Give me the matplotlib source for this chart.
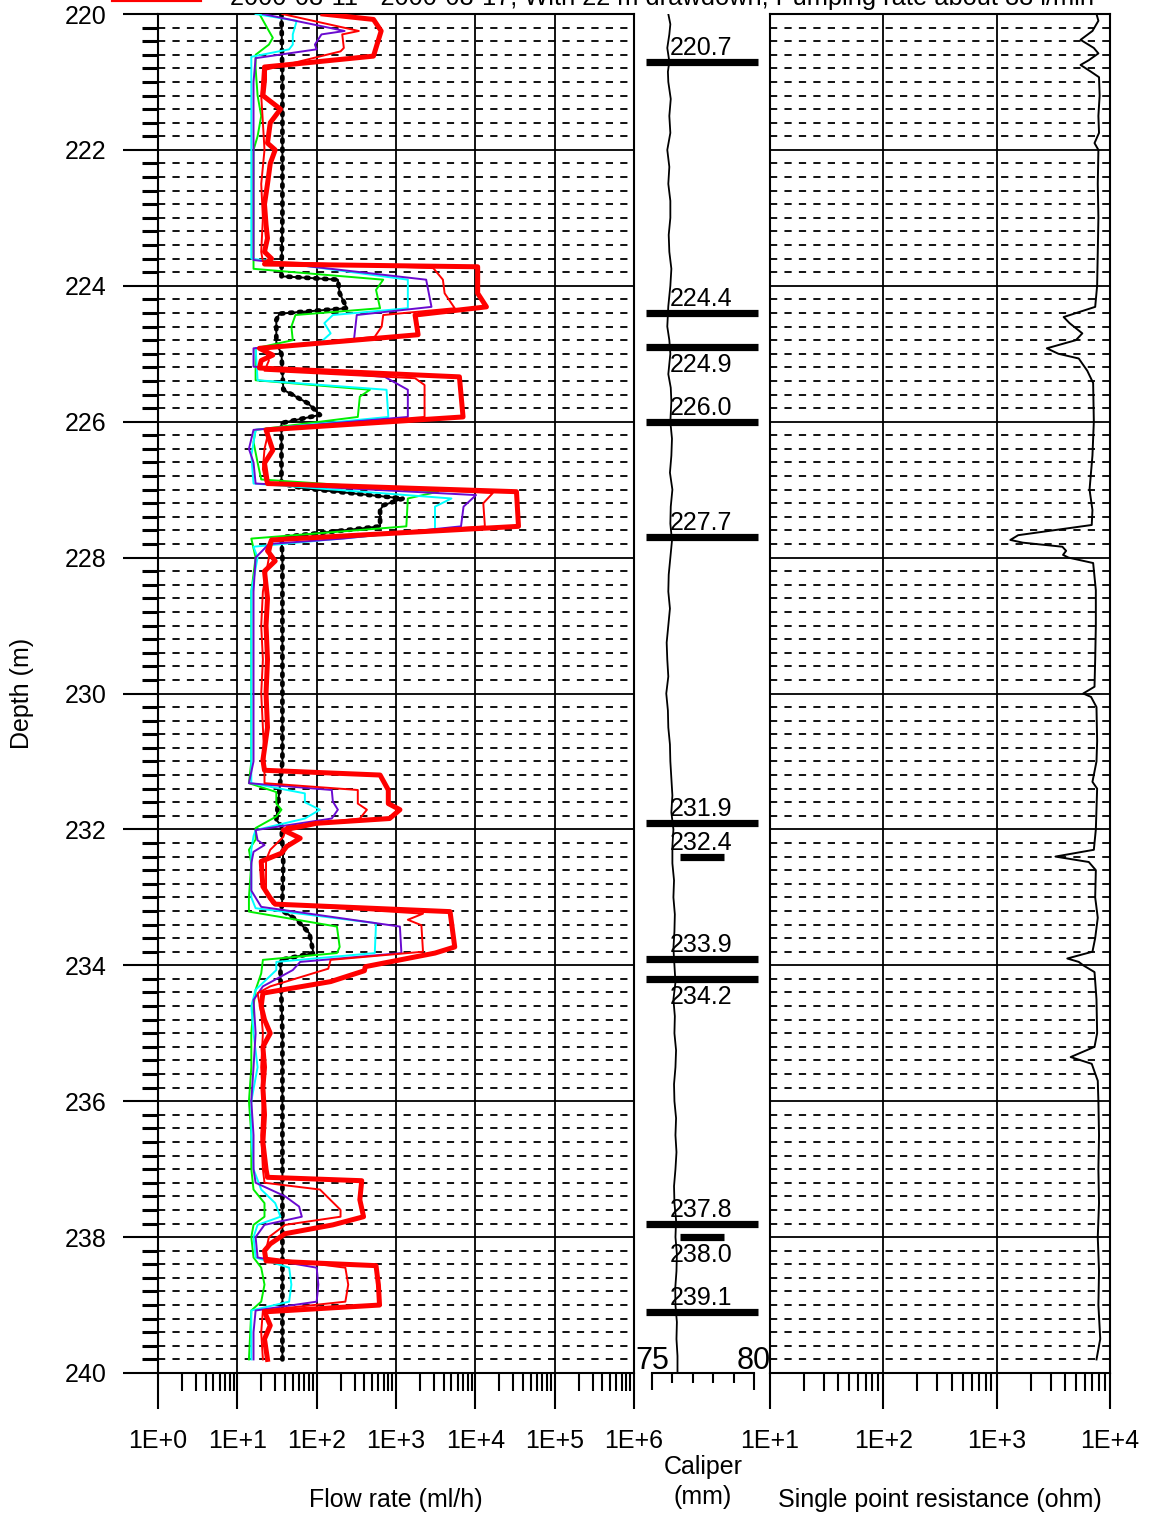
import numpy as np
import matplotlib
matplotlib.use("Agg")
import matplotlib.pyplot as plt
from matplotlib.ticker import FuncFormatter, LogLocator, NullFormatter, MultipleLocator
import matplotlib.transforms as mtransforms
from matplotlib.lines import Line2D

plt.rcParams['font.family'] = ['Liberation Sans', 'DejaVu Sans']

W, H = 1149, 1517
FS = 18

title = "2000-08-11 - 2000-08-17, With 22 m drawdown, Pumping rate about 88 l/min"

# ---- flow logs (depth m, flow ml/h) ----
red2_depth = [220.00, 220.08, 220.25, 220.62, 220.78, 220.97, 221.2, 221.4, 221.6, 221.9, 222.0, 222.2,
              222.5, 222.8, 223.1, 223.3, 223.5, 223.6, 223.68, 223.72, 224.11, 224.31, 224.43, 224.72,
              224.92, 225.02, 225.1, 225.21, 225.34, 225.93, 226.12, 226.42, 226.61, 226.91, 227.03,
              227.54, 227.74, 227.9, 228.05, 228.2, 228.6, 229.0, 229.5, 230.0, 230.5, 230.98, 231.13,
              231.2, 231.42, 231.62, 231.71, 231.84, 231.91, 232.01, 232.13, 232.25, 232.35, 232.47,
              232.84, 233.01, 233.10, 233.21, 233.73, 233.82, 234.02, 234.08, 234.24, 234.41, 234.6,
              234.8, 235.0, 235.2, 235.5, 235.8, 236.2, 236.6, 237.0, 237.12, 237.17, 237.45, 237.7,
              237.82, 237.95, 238.1, 238.2, 238.35, 238.42, 238.7, 239.0, 239.1, 239.3, 239.5, 239.8]
red2_flow = [120, 520, 650, 520, 22, 22, 21, 35, 26, 24, 30, 26,
             24, 22, 23, 24, 22, 27, 22, 10700, 10700, 13800, 1740, 1900,
             19, 28, 20, 19, 6300, 7000, 23, 28, 22, 24, 33000,
             35000, 27, 24, 30, 22, 24, 23, 24, 23, 24, 21, 22,
             630, 800, 800, 1120, 830, 100, 38, 62, 42, 36, 20,
             21, 26, 30, 4800, 5500, 3100, 410, 400, 150, 21, 20,
             22, 26, 21, 22, 21, 22, 21, 23, 24, 370, 350, 390,
             160, 40, 26, 22, 23, 560, 600, 620, 22, 26, 22, 24]

red1_depth = [220.0, 220.25, 220.3, 220.5, 220.55, 220.83, 221.2, 221.6, 222.0, 222.5, 223.0, 223.5,
              223.64, 223.74, 223.91, 224.11, 224.33, 224.43, 224.6, 224.75, 224.92, 225.1, 225.25,
              225.36, 225.46, 225.93, 226.12, 226.4, 226.7, 226.9, 227.05, 227.2, 227.54, 227.74, 228.0,
              228.5, 229.0, 229.5, 230.0, 230.5, 231.0, 231.32, 231.42, 231.62, 231.71, 231.84, 231.96,
              232.11, 232.3, 232.45, 232.94, 233.1, 233.24, 233.33, 233.41, 233.80, 233.92, 234.05,
              234.31, 234.41, 234.7, 235.0, 235.5, 236.0, 236.5, 237.0, 237.2, 237.3, 237.6, 237.7,
              237.82, 238.0, 238.3, 238.45, 238.7, 238.95, 239.08, 239.4, 239.8]
red1_flow = [37, 340, 210, 220, 200, 21, 20, 21, 22, 20, 21, 20,
             21, 2950, 3900, 4100, 5500, 690, 660, 540, 22, 25, 22,
             1740, 2290, 2290, 25, 22, 21, 23, 16600, 12600, 13200, 28, 25,
             21, 20, 21, 20, 21, 22, 22, 330, 330, 430, 350, 42,
             38, 26, 23, 23, 28, 2190, 1410, 2090, 2190, 150, 140,
             26, 18, 20, 21, 20, 21, 20, 21, 22, 110, 200, 200,
             40, 25, 22, 230, 250, 230, 21, 20, 21]

purple_depth = [220.0, 220.25, 220.3, 220.45, 220.52, 220.65, 221.0, 221.5, 222.0, 222.5, 223.0, 223.62,
                223.91, 224.31, 224.43, 224.8, 224.92, 225.19, 225.34, 225.53, 225.93, 226.12, 226.4,
                226.6, 226.91, 227.08, 227.25, 227.54, 227.72, 227.8, 228.0, 228.5, 229.0, 229.5, 230.0,
                230.5, 231.0, 231.32, 231.42, 231.59, 231.71, 231.84, 232.01, 232.16, 232.23, 232.33,
                232.5, 232.9, 233.14, 233.43, 233.82, 233.95, 234.07, 234.31, 234.51, 235.0, 235.5,
                236.0, 236.5, 237.0, 237.2, 237.4, 237.55, 237.7, 237.82, 238.0, 238.3, 238.45, 238.7,
                238.95, 239.08, 239.4, 239.8]
purple_flow = [21, 225, 115, 95, 100, 17, 16, 16, 16, 16, 16, 16,
               2400, 2800, 320, 295, 16, 16, 720, 1410, 1410, 16, 14,
               16, 17, 10200, 7100, 6600, 215, 25, 17, 16, 16, 16, 16,
               16, 16, 14, 155, 160, 185, 155, 17, 18, 22, 16,
               15, 15, 20, 1120, 1170, 62, 50, 21, 16, 17, 16,
               15, 16, 16, 17, 40, 60, 65, 22, 17, 18, 100, 105,
               100, 17, 16, 16]

cyan_depth = [220.0, 220.1, 220.3, 220.45, 220.52, 220.63, 221.0, 221.5, 222.0, 222.5, 223.0, 223.6,
              223.91, 224.33, 224.43, 224.55, 224.7, 224.82, 224.92, 225.39, 225.53, 225.93, 226.12,
              226.5, 226.91, 227.13, 227.25, 227.59, 227.84, 228.0, 228.5, 229.0, 230.0, 231.0, 231.32,
              231.47, 231.6, 231.71, 231.84, 232.01, 232.1, 232.3, 233.0, 233.16, 233.38, 233.82,
              233.95, 234.07, 234.36, 234.6, 235.0, 235.5, 236.0, 236.5, 237.0, 237.3, 237.5, 237.7,
              237.82, 238.0, 238.3, 238.45, 238.7, 238.95, 239.08, 239.8]
cyan_flow = [17, 56, 50, 50, 45, 15, 15, 15, 15, 15, 15, 15,
             1410, 1410, 160, 125, 150, 115, 17, 18, 760, 800, 17,
             15, 16, 5000, 3100, 3100, 16, 18, 15, 15, 15, 15, 15,
             71, 71, 110, 71, 17, 16, 15, 15, 17, 560, 540,
             31, 31, 17, 15, 16, 18, 15, 15, 16, 20, 30, 35,
             18, 16, 17, 45, 48, 45, 15, 15]

green_depth = [220.0, 220.25, 220.35, 220.45, 220.6, 220.8, 221.2, 221.5, 221.8, 222.0, 222.5, 223.0,
               223.5, 223.75, 223.91, 224.06, 224.33, 224.43, 224.6, 224.8, 224.92, 225.39, 225.53,
               225.63, 225.93, 226.12, 226.3, 226.6, 226.85, 227.03, 227.13, 227.54, 227.72, 228.0,
               228.5, 229.0, 230.0, 231.0, 231.32, 231.45, 231.62, 231.71, 231.81, 231.98, 232.15,
               232.3, 232.5, 233.0, 233.21, 233.43, 233.73, 233.82, 233.92, 234.12, 234.36, 234.6,
               235.0, 235.5, 236.0, 236.5, 237.0, 237.3, 237.5, 237.7, 237.82, 238.0, 238.3, 238.45,
               238.7, 238.95, 239.08, 239.8]
green_flow = [19, 25, 28, 25, 17, 17, 18, 20, 18, 16, 16, 16,
              16, 16, 690, 560, 630, 54, 48, 50, 17, 17, 470,
              350, 330, 17, 16, 18, 20, 3400, 1410, 1350, 15, 17,
              15, 15, 15, 15, 14, 31, 31, 36, 31, 17, 17,
              14, 15, 14, 14, 180, 195, 180, 21, 20, 17, 16,
              15, 15, 14, 15, 15, 16, 22, 22, 16, 15, 16, 20,
              22, 20, 15, 14]

black_depth = [220.0, 221.0, 222.0, 223.0, 223.86, 223.91, 224.11, 224.33, 224.41, 224.5, 224.85, 225.0,
               225.53, 225.73, 225.9, 226.02, 226.5, 226.91, 226.98, 227.13, 227.23, 227.3, 227.54,
               227.7, 228.0, 229.0, 230.0, 231.0, 231.86, 231.95, 232.5, 233.0, 233.19, 233.33, 233.53,
               233.82, 233.92, 234.2, 234.5, 235.0, 236.0, 237.0, 238.0, 239.0, 239.8]
black_flow = [36, 37, 37, 37, 36, 185, 195, 240, 34, 31, 31, 36,
              38, 78, 110, 36, 36, 36, 68, 1230, 690, 630, 630,
              36, 37, 37, 37, 37, 31, 36, 38, 37, 36, 56, 81,
              91, 35, 35, 36, 37, 37, 37, 37, 37, 37]

# ---- caliper (mm) ----
cal_depth = [220.0, 220.15, 220.3, 220.5, 220.7, 220.85, 221.0, 221.25, 221.5, 221.75, 222.0, 222.25,
             222.5, 222.75, 223.0, 223.25, 223.5, 223.75, 224.0, 224.3, 224.6, 224.8, 225.0, 225.3,
             225.5, 225.7, 226.0, 226.25, 226.5, 226.75, 227.0, 227.25, 227.5, 227.75, 228.0, 228.25,
             228.5, 228.75, 229.0, 229.25, 229.5, 229.75, 230.0, 230.25, 230.5, 230.75, 231.0, 231.25,
             231.5, 231.75, 232.0, 232.25, 232.5, 232.75, 233.0, 233.25, 233.5, 233.75, 234.0, 234.25,
             234.5, 234.75, 235.0, 235.25, 235.5, 235.75, 236.0, 236.25, 236.5, 236.75, 237.0, 237.25,
             237.5, 237.75, 238.0, 238.25, 238.5, 238.75, 239.0, 239.25, 239.5, 239.75, 240.0]
cal_mm = [75.8, 75.9, 75.85, 75.75, 75.85, 75.78, 75.8, 75.92, 75.85, 75.9, 75.75, 75.85,
          75.8, 75.9, 75.9, 75.82, 75.85, 75.95, 75.9, 75.8, 75.75, 75.85, 75.9, 75.8,
          75.92, 75.95, 75.9, 75.98, 75.95, 75.88, 76.0, 75.92, 75.9, 75.98, 75.9, 75.82,
          75.8, 75.88, 75.8, 75.72, 75.75, 75.8, 75.7, 75.78, 75.8, 75.88, 75.9, 75.95,
          76.0, 75.95, 76.05, 76.0, 76.0, 76.08, 76.05, 76.12, 76.1, 76.05, 76.1, 76.15,
          76.05, 76.12, 76.1, 76.18, 76.15, 76.08, 76.1, 76.18, 76.15, 76.2, 76.15, 76.08,
          76.1, 76.18, 76.15, 76.22, 76.2, 76.14, 76.15, 76.22, 76.2, 76.25, 76.25]

# fractures: depth, label below bar?, short bar?
frac_depth = [220.7, 224.4, 224.9, 226.0, 227.7, 231.9, 232.4, 233.9, 234.2, 237.8, 238.0, 239.1]
frac_below = [False, False, True, False, False, False, False, False, True, False, True, False]
frac_short = [False, False, False, False, False, False, True, False, False, False, True, False]

# ---- single point resistance (ohm) ----
res_depth = [220.0, 220.1, 220.25, 220.38, 220.5, 220.58, 220.68, 220.75, 220.85, 220.93, 221.2, 221.5,
             221.75, 221.9, 222.0, 222.5, 223.0, 223.5, 224.0, 224.31, 224.46, 224.55, 224.7, 224.8,
             224.92, 225.0, 225.07, 225.25, 225.43, 226.0, 226.5, 227.0, 227.3, 227.52, 227.67, 227.74,
             227.78, 227.84, 227.9, 227.96, 228.0, 228.08, 228.48, 229.0, 229.5, 229.9, 230.0, 230.05,
             230.2, 230.7, 231.0, 231.3, 231.4, 232.0, 232.3, 232.4, 232.48, 232.6, 233.0, 233.3,
             233.6, 233.8, 233.9, 233.95, 234.0, 234.1, 234.5, 235.0, 235.2, 235.35, 235.45, 235.7,
             236.0, 236.5, 237.0, 237.5, 238.0, 238.5, 239.0, 239.5, 239.8]
res_ohm = [7600, 7900, 7000, 5500, 7200, 7900, 6500, 5500, 6800, 8000, 8100, 7900,
           8000, 7300, 7900, 7800, 7900, 7800, 7700, 7400, 3900, 4400, 5700, 5000,
           2770, 3500, 5300, 6300, 7100, 7200, 7000, 6600, 7000, 6900, 1550, 1320,
           1700, 3800, 4100, 3850, 4300, 7100, 7500, 7500, 7400, 7300, 5800, 6800,
           7600, 7700, 7600, 7000, 7700, 7500, 7200, 3300, 6500, 7500, 7400, 7800,
           7400, 7000, 4200, 5300, 5800, 7300, 7600, 7700, 7300, 4500, 6900, 7800,
           7900, 8000, 7900, 8000, 7800, 8000, 7900, 8200, 7600]


def px_box(x0, x1, y0, y1):
    return [x0 / W, 1 - y1 / H, (x1 - x0) / W, (y1 - y0) / H]


def dec_label(v, pos):
    return "1E+%d" % int(round(np.log10(v)))


fig = plt.figure(figsize=(W / 100, H / 100), dpi=100)

ax = fig.add_axes(px_box(158, 634, 14, 1373))
axc = fig.add_axes(px_box(634, 770, 14, 1373))
axr = fig.add_axes(px_box(770, 1110, 14, 1373))

# ---- log panels: common frame / grid ----
for a, lo, hi in [(ax, 1, 1e6), (axr, 10, 1e4)]:
    a.set_xscale('log')
    a.set_xlim(lo, hi)
    a.set_ylim(240, 220)
    for s in a.spines.values():
        s.set_linewidth(1.5)
    a.xaxis.set_major_locator(LogLocator(base=10, numticks=20))
    a.xaxis.set_minor_locator(LogLocator(base=10, subs=np.arange(2, 10), numticks=20))
    a.xaxis.set_major_formatter(FuncFormatter(dec_label))
    a.xaxis.set_minor_formatter(NullFormatter())
    a.tick_params(axis='x', which='major', length=26, width=1.5, pad=14, labelsize=FS, direction='out')
    a.tick_params(axis='x', which='minor', length=13, width=1.5, direction='out')
    for d in np.arange(220.2, 240, 0.2):
        if abs(d / 2 - round(d / 2)) > 1e-6:
            a.axhline(d, color='k', lw=1.3, ls=(0, (4, 4)), zorder=1)
    for d in range(222, 240, 2):
        a.axhline(d, color='k', lw=1.3, zorder=1)
    for e in range(int(np.log10(lo)) + 1, int(np.log10(hi))):
        a.axvline(10 ** e, color='k', lw=1.3, zorder=1)

ax.yaxis.set_major_locator(MultipleLocator(2))
ax.yaxis.set_minor_locator(MultipleLocator(0.2))
ax.tick_params(axis='y', which='major', length=25, width=1.5, pad=12, labelsize=FS, direction='out')
ax.tick_params(axis='y', which='minor', length=11.5, width=2.2, direction='out')
ax.set_ylabel("Depth (m)", fontsize=FS, labelpad=22)

axr.tick_params(axis='y', left=False, labelleft=False)

# ---- flow curves ----
ax.plot(black_flow, black_depth, color='k', lw=1.4, zorder=3)
ax.plot(black_flow, black_depth, color='k', lw=3.4, ls=(0, (0.5, 1.4)), dash_capstyle='round', zorder=3)
ax.plot(green_flow, green_depth, color='#00ee00', lw=1.4, zorder=4)
ax.plot(cyan_flow, cyan_depth, color='#00ffff', lw=1.4, zorder=4)
ax.plot(purple_flow, purple_depth, color='#6a0ad0', lw=1.4, zorder=5)
ax.plot(red1_flow, red1_depth, color='#ff0000', lw=1.4, zorder=6)
ax.plot(red2_flow, red2_depth, color='#ff0000', lw=3.6, zorder=7)

# ---- resistance curve ----
axr.plot(res_ohm, res_depth, color='k', lw=1.4, zorder=3)

# ---- caliper panel ----
axc.set_xlim(74.12, 80.78)
axc.set_ylim(240, 220)
for k in ['top', 'left', 'right']:
    axc.spines[k].set_visible(False)
axc.spines['bottom'].set_bounds(75, 80)
axc.spines['bottom'].set_linewidth(1.5)
axc.patch.set_alpha(0)
axc.set_xticks([75, 80])
axc.set_xticks([76, 77, 78, 79], minor=True)
axc.set_xticklabels([])
axc.tick_params(axis='x', which='major', length=12, width=1.5, direction='out')
axc.tick_params(axis='x', which='minor', length=7, width=1.5, direction='out')
axc.tick_params(axis='y', left=False, labelleft=False)
axc.plot(cal_mm, cal_depth, color='k', lw=1.3)
tr = mtransforms.blended_transform_factory(axc.transData, axc.transAxes)
for v in [75, 80]:
    axc.text(v, 0.003, str(v), transform=tr, ha='center', va='baseline', fontsize=22)

trb = mtransforms.blended_transform_factory(axc.transAxes, axc.transData)
for d, below, short in zip(frac_depth, frac_below, frac_short):
    x0, x1 = (0.338, 0.662) if short else (0.088, 0.912)
    axc.plot([x0, x1], [d, d], transform=trb, color='k', lw=5.2, solid_capstyle='butt', zorder=5)
    off = -18 if below else 14
    axc.annotate("%.1f" % d, xy=(0.265, d), xycoords=trb, xytext=(0, off),
                 textcoords='offset pixels', ha='left', va='center', fontsize=FS)

# ---- texts ----
fig.text(396 / W, 1 - 1500 / H, "Flow rate (ml/h)", ha='center', va='center', fontsize=FS)
fig.text(703 / W, 1 - 1467 / H, "Caliper", ha='center', va='center', fontsize=FS)
fig.text(703 / W, 1 - 1497 / H, "(mm)", ha='center', va='center', fontsize=FS)
fig.text(940 / W, 1 - 1500 / H, "Single point resistance (ohm)", ha='center', va='center', fontsize=FS)
fig.text(230 / W, 1 - 5 / H, title, ha='left', va='baseline', fontsize=18.3)
fig.add_artist(Line2D([113 / W, 200 / W], [1.0, 1.0], color='#ff0000', lw=3, transform=fig.transFigure))

fig.savefig("out.png", dpi=100)
